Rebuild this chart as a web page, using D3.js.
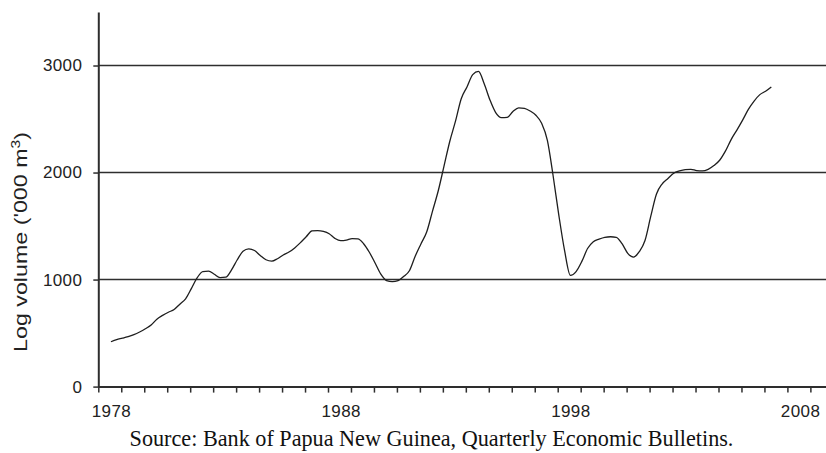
<!DOCTYPE html>
<html>
<head>
<meta charset="utf-8">
<script src="https://cdn.jsdelivr.net/npm/d3@7/dist/d3.min.js"></script>
<style>
  html, body { margin: 0; padding: 0; background: #fff; }
  svg { display: block; }
</style>
</head>
<body>
<svg id="chart" width="826" height="453"></svg>
<script>
// ---- data (quarterly log volume, '000 m3), 1978Q1 .. 2006Q4 ----
const startYear = 1978;
const logVolume = [
  419, 440, 452, 466, 485, 510, 540, 575, 630, 665, 695, 720,
  770, 820, 915, 1015, 1075, 1078, 1050, 1018, 1022, 1090, 1185, 1265,
  1287, 1272, 1225, 1185, 1172, 1195, 1230, 1257, 1296, 1345, 1400, 1454,
  1458, 1450, 1428, 1385, 1363, 1368, 1382, 1380, 1335, 1255, 1155, 1050,
  990, 980, 990, 1030, 1085, 1220, 1335, 1447, 1640, 1830, 2060, 2290,
  2480, 2690, 2800, 2915, 2945, 2830, 2678, 2560, 2513, 2515, 2570, 2605,
  2600, 2575, 2535, 2460, 2300, 1970, 1600, 1270, 1040, 1075, 1170, 1290,
  1354, 1378, 1395, 1400, 1395, 1335, 1245, 1210, 1260, 1365, 1590, 1800,
  1895, 1945, 1993, 2015, 2028, 2030, 2018, 2015, 2030, 2065, 2115, 2200,
  2308, 2397, 2490, 2590, 2668, 2728, 2760, 2800
];
const yTicks = [0, 1000, 2000, 3000];
const xLabelYears = [1978, 1988, 1998, 2008];
const yTitle = "Log volume ('000 m";
const sourceText = "Source: Bank of Papua New Guinea, Quarterly Economic Bulletins.";

const series = logVolume.map((v, i) => ({ t: startYear + i / 4, v }));

// ---- layout ----
const svg = d3.select("#chart");
const mLeft = 98.3, mRight = 826, mTop = 12, mBottom = 386.6;

const x = d3.scaleLinear().domain([1977.45, 2009.13]).range([mLeft, mRight]);
const y = d3.scaleLinear().domain([0, 3500]).range([mBottom, mTop]);

const ink = "#2e2e2e";

// gridlines
svg.append("g")
  .selectAll("line")
  .data(yTicks.filter(d => d > 0))
  .join("line")
  .attr("x1", mLeft).attr("x2", mRight)
  .attr("y1", d => y(d)).attr("y2", d => y(d))
  .attr("stroke", ink).attr("stroke-width", 1.5);

// y axis
const yAxis = svg.append("g")
  .attr("transform", `translate(${mLeft},0)`)
  .call(d3.axisLeft(y).tickValues(yTicks).tickSize(5).tickSizeOuter(0).tickPadding(11).tickFormat(d3.format("d")));
yAxis.select(".domain").attr("stroke", ink).attr("stroke-width", 2);
yAxis.selectAll(".tick line").attr("stroke", ink).attr("stroke-width", 1.5);
yAxis.selectAll("text")
  .attr("font-family", "'Liberation Sans', Arial, sans-serif")
  .attr("font-size", 17).attr("letter-spacing", 0.4).attr("fill", "#222");

// x axis tick marks (year boundaries)
const tickYears = d3.range(0, 32).map(k => 1977.45 + k);
const xAxis = svg.append("g")
  .attr("transform", `translate(0,${mBottom})`)
  .call(d3.axisBottom(x).tickValues(tickYears).tickSize(6).tickSizeOuter(0).tickFormat(""));
xAxis.select(".domain").attr("stroke", ink).attr("stroke-width", 2);
xAxis.selectAll(".tick line").attr("stroke", ink).attr("stroke-width", 1.5);

// x axis labels
const xLab = svg.append("g")
  .attr("transform", `translate(0,${mBottom})`)
  .call(d3.axisBottom(x).tickValues(xLabelYears).tickSize(0).tickPadding(18).tickFormat(d3.format("d")));
xLab.select(".domain").remove();
xLab.selectAll("text")
  .attr("font-family", "'Liberation Sans', Arial, sans-serif")
  .attr("font-size", 17).attr("letter-spacing", 0.4).attr("fill", "#222");

// line
svg.append("path")
  .datum(series)
  .attr("fill", "none")
  .attr("stroke", "#1e1e1e")
  .attr("stroke-width", 1.3)
  .attr("stroke-linejoin", "round")
  .attr("d", d3.line().x(d => x(d.t)).y(d => y(d.v)).curve(d3.curveMonotoneX));

// y title
const yt = svg.append("text")
  .attr("transform", "translate(27,242) rotate(-90)")
  .attr("text-anchor", "middle")
  .attr("font-family", "'Liberation Sans', Arial, sans-serif")
  .attr("font-size", 18)
  .attr("fill", "#222")
  .attr("textLength", 220)
  .attr("lengthAdjust", "spacingAndGlyphs");
yt.append("tspan").text(yTitle);
yt.append("tspan").attr("dy", -7).attr("font-size", 12).text("3");
yt.append("tspan").attr("dy", 7).text(")");

// source
svg.append("text")
  .attr("x", 431.5).attr("y", 446)
  .attr("text-anchor", "middle")
  .attr("font-family", "'Liberation Serif', 'Times New Roman', serif")
  .attr("font-size", 22.2)
  .attr("fill", "#111")
  .text(sourceText);
</script>
</body>
</html>
